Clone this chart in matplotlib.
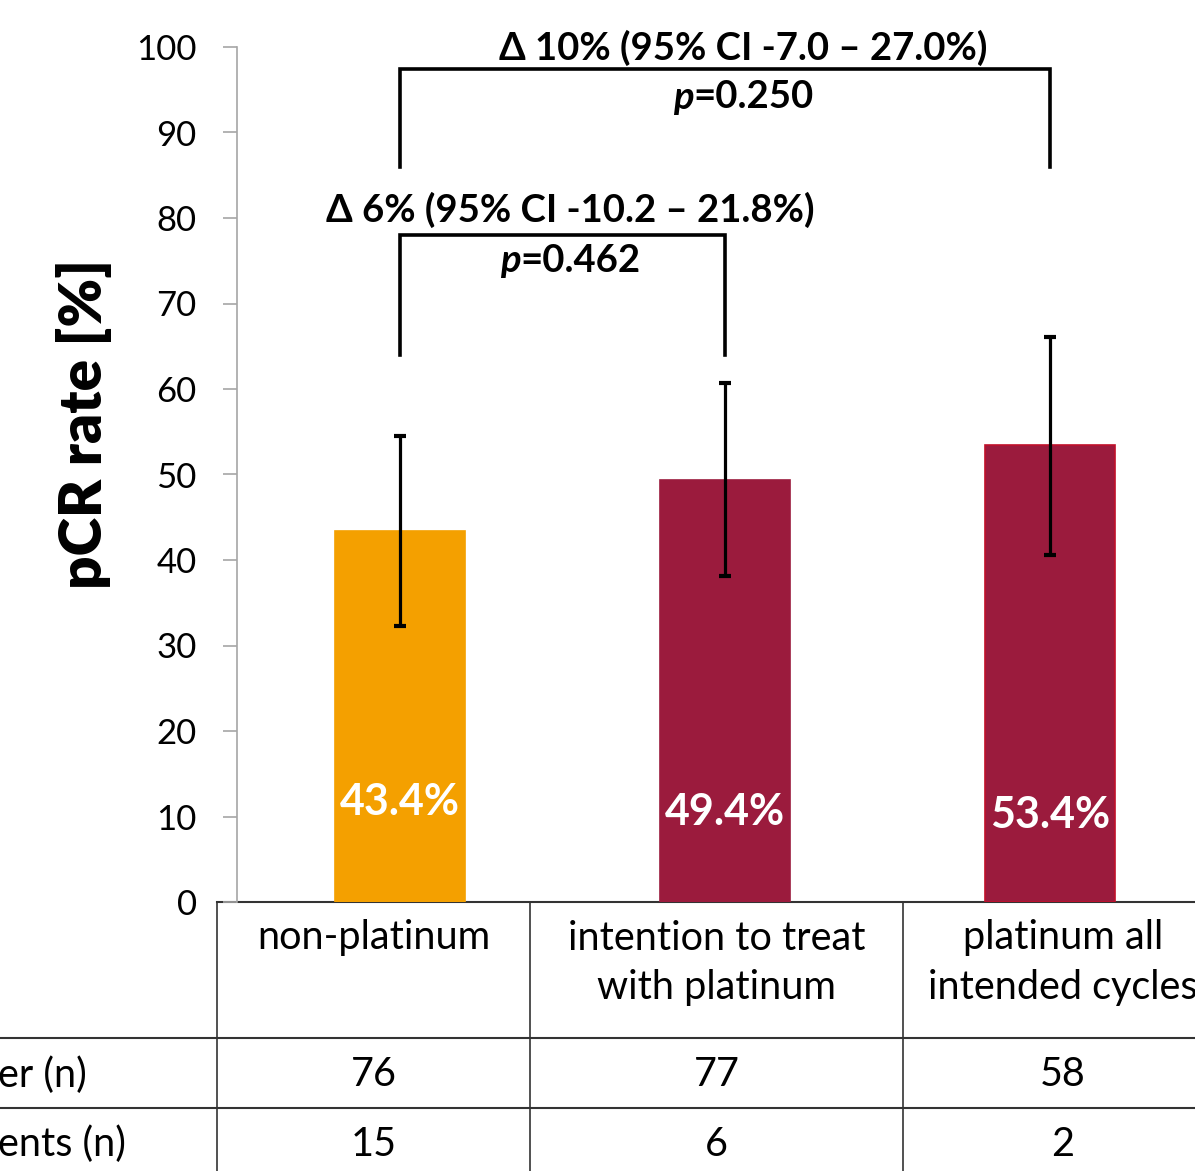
import matplotlib
matplotlib.use("Agg")
import matplotlib.pyplot as plt
from matplotlib import transforms

plt.rcParams['font.family'] = ['Lato', 'DejaVu Sans']

# data
groups = ["non-platinum", "intention to treat\nwith platinum", "platinum all\nintended cycles"]
pcr_rate = [43.4, 49.4, 53.4]
ci_low = [32.3, 38.1, 40.6]
ci_high = [54.5, 60.7, 66.1]
row_labels = ["er (n)", "ents (n)"]  # only the visible ends of the row labels
patients_n = [76, 77, 58]
events_n = [15, 6, 2]

# comparisons: (group a, group b, delta text, p value)
comp_pairs = [(0, 1), (0, 2)]
comp_delta = ["Δ 6% (95% CI -10.2 – 21.8%)", "Δ 10% (95% CI -7.0 – 27.0%)"]
comp_p = ["0.462", "0.250"]

# layout
W, H = 1195, 1171
bar_colors = ["#F4A000", "#9B1B3D", "#9B1B3D"]
bar_edges = ["#F4A000", "#9B1B3D", "#C0102A"]
label_y = [11.7, 10.5, 10.2]
bracket_low = [64.0, 86.0]
bracket_high = [78.0, 97.4]
delta_y = [80.9, 99.9]
p_y = [75.0, 94.1]
text_x = [0.525, 1.057]

fig = plt.figure(figsize=(W / 100, H / 100), dpi=100)

# overlay in pixel coords for the table
ov = fig.add_axes([0, 0, 1, 1])
ov.set_xlim(0, W)
ov.set_ylim(H, 0)
ov.axis('off')

ax = fig.add_axes([237 / W, 1 - 902 / H, (1212.5 - 237) / W, (902 - 47) / H])
ax.set_facecolor('none')
x = list(range(len(groups)))
yerr = [[v - lo for v, lo in zip(pcr_rate, ci_low)], [hi - v for v, hi in zip(pcr_rate, ci_high)]]
ax.bar(x, pcr_rate, width=0.4, color=bar_colors, edgecolor=bar_edges, linewidth=1.2, zorder=2)
ax.errorbar(x, pcr_rate, yerr=yerr, fmt='none', ecolor='black', elinewidth=2.3,
            capsize=4, capthick=3, zorder=3)
for xi, v, ly in zip(x, pcr_rate, label_y):
    ax.text(xi, ly, f"{v:.1f}%", ha='center', va='center', color='white',
            fontsize=31, fontweight='bold', zorder=4)

# significance brackets
for (a, b), d, p, lo, hi, dy, py, tx in zip(comp_pairs, comp_delta, comp_p,
                                              bracket_low, bracket_high, delta_y, p_y, text_x):
    ax.plot([a, a, b, b], [lo, hi, hi, lo], color='black', lw=2.6, clip_on=False,
            solid_joinstyle='miter', zorder=3)
    ax.text(tx, dy, d, ha='center', va='center', fontsize=27.5, fontweight='bold', clip_on=False)
    anchor = transforms.offset_copy(ax.transData, fig=fig, x=-36, y=0, units='points')
    ax.text(tx, py, "p", ha='right', va='center', fontsize=27.5, fontweight='bold',
            fontstyle='italic', transform=anchor)
    ax.text(tx, py, "=" + p, ha='left', va='center', fontsize=27.5, fontweight='bold',
            transform=anchor)

ax.set_xlim(-0.5, 2.5)
ax.set_ylim(0, 100)
ax.set_yticks(range(0, 101, 10))
ax.set_xticks([])
for s in ['top', 'right', 'bottom']:
    ax.spines[s].set_visible(False)
ax.spines['left'].set_color('#A6A6A6')
ax.spines['left'].set_linewidth(1.2)
ax.tick_params(axis='y', direction='out', length=10, width=1.2, color='#A6A6A6',
               pad=19, labelsize=25)
ax.set_ylabel("pCR rate [%]", fontsize=42, fontweight='heavy')
ax.yaxis.set_label_coords(-0.128, 0.559)

# table below the chart
col_edges = [217, 530, 903, 1223]
row_edges = [902, 1038, 1108, 1178]
lc = '#333333'
ov.plot([col_edges[0], W], [row_edges[0]] * 2, color=lc, lw=1.5)
for ry in row_edges[1:3]:
    ov.plot([0, W], [ry, ry], color=lc, lw=1.5)
for cx in col_edges[:3]:
    ov.plot([cx, cx], [row_edges[0], H], color=lc, lw=1.2)
centers = [(col_edges[i] + col_edges[i + 1]) / 2 for i in range(3)]
for c, g in zip(centers, groups):
    for i, line in enumerate(g.split("\n")):
        ov.text(c, 938 + 50 * i, line, ha='center', va='center', fontsize=28.5)
row_y = [1075, 1144]
for ry, lab, vals in zip(row_y, row_labels, [patients_n, events_n]):
    ov.text(-2, ry, lab, ha='left', va='center', fontsize=28.5)
    for c, v in zip(centers, vals):
        ov.text(c, ry, str(v), ha='center', va='center', fontsize=28.5)

fig.savefig("out.png", dpi=100)
